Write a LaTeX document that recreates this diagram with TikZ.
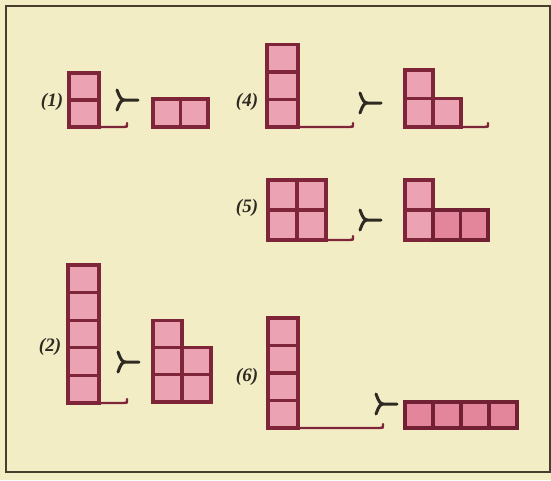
\documentclass[tikz,border=0pt]{standalone}
\usepackage{fontspec}
\newfontfamily\lblfont{Liberation Serif}
\usepackage{xcolor}
\definecolor{bg}{HTML}{F3EDC6}
\definecolor{cellfill}{HTML}{EBA2B3}
\definecolor{cellfilld}{HTML}{E3869C}
\definecolor{cellline}{HTML}{7E2539}
\definecolor{framec}{HTML}{4A3C2C}
\definecolor{ink}{HTML}{2E2A22}
\tikzset{
  cell/.style={fill=cellfill, draw=cellline, line width=3.2pt},
  celld/.style={fill=cellfilld, draw=cellline!90!black, line width=3.2pt},
  baseln/.style={draw=cellline, line width=2.4pt, line cap=round},
  lbl/.style={font=\lblfont\fontsize{19}{22}\selectfont\bfseries\itshape, text=ink, inner sep=0pt},
  succsym/.pic={\draw[ink, line width=3pt, line cap=round]
      (0,-10) .. controls (3,-2) and (4,0) .. (8,0) -- (21,0)
      (0,10) .. controls (3,2) and (4,0) .. (8,0);}
}
% style, x0, y0 (bottom-left), cell width, cell height, list col/row
\newcommand\blk[6]{\foreach \i/\j in {#6}
  \draw[#1] ({#2+\i*#4},{#3-\j*#5}) rectangle ++(#4,-#5);}
\newcommand\basel[3]{\draw[baseln] (#1,#3) -- ({#2-3},#3) .. controls (#2,#3) .. (#2,{#3-4});}
\begin{document}
\begin{tikzpicture}[x=1pt,y=-1pt]
\useasboundingbox (0,0) rectangle (551,480);
\fill[bg] (0,0) rectangle (551,480);
\draw[framec, line width=2.8pt] (6,6) rectangle (550,472);
% (1)
\node[lbl] (l1) at (52,102) {(1)};
\blk{cell}{69}{127}{30}{27}{0/0,0/1}
\basel{99}{127}{127}
\pic at (117,100) {succsym};
\blk{cell}{153}{127}{27.5}{28}{0/0,1/0}
% (4)
\node[lbl] (l4) at (247,102) {(4)};
\blk{cell}{267}{127}{31}{27.5}{0/0,0/1,0/2}
\basel{298}{353}{127}
\pic at (360,103) {succsym};
\blk{cell}{405}{127}{28}{28.5}{0/0,0/1,1/0}
\basel{461}{488}{127}
% (5)
\node[lbl] (l5) at (247,208) {(5)};
\blk{cell}{268}{240}{29}{30}{0/0,1/0,0/1,1/1}
\basel{326}{353}{240}
\pic at (360,220) {succsym};
\blk{cell}{405}{240}{28}{30}{0/0,0/1}
\blk{celld}{433}{240}{27.5}{30}{0/0,1/0}
% (2)
\node[lbl] (l2) at (50,347) {(2)};
\blk{cell}{68}{403}{31}{27.6}{0/0,0/1,0/2,0/3,0/4}
\basel{99}{127}{403}
\pic at (118,362) {succsym};
\blk{cell}{153}{402}{29}{27.3}{0/0,0/1,0/2,1/0,1/1}
% (6)
\node[lbl] (l6) at (247,377) {(6)};
\blk{cell}{268}{428}{30}{27.5}{0/0,0/1,0/2,0/3}
\basel{298}{383}{428}
\pic at (376,404) {succsym};
\blk{celld}{405}{428}{28}{26}{0/0,1/0,2/0,3/0}
\end{tikzpicture}
\end{document}
